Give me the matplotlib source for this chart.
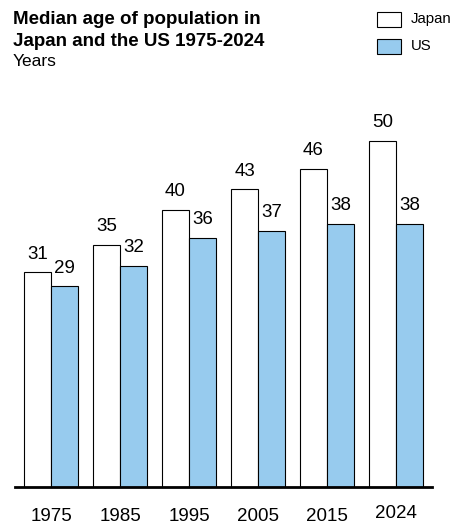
import numpy as np
import matplotlib.pyplot as plt
from matplotlib.patches import Rectangle

plt.rcParams['font.family'] = ['Liberation Sans', 'DejaVu Sans']

years = ['1975', '1985', '1995', '2005', '2015', '2024']
japan = [31, 35, 40, 43, 46, 50]
us = [29, 32, 36, 37, 38, 38]

blue = '#97CBEE'
W, H = 457, 525

fig = plt.figure(figsize=(4.57, 5.25), dpi=100)
ax = fig.add_axes([15 / W, 38 / H, 417 / W, 380.6 / H])

x = np.arange(len(years))
w = 0.39
b1 = ax.bar(x - w / 2, japan, w, color='white', edgecolor='black', linewidth=0.8)
b2 = ax.bar(x + w / 2, us, w, color=blue, edgecolor='black', linewidth=0.8)
ax.bar_label(b1, padding=7, fontsize=13.5)
ax.bar_label(b2, padding=7, fontsize=13.5)

ax.set_xlim(-0.522, 5.522)
ax.set_ylim(0, 55)
for s in ['top', 'right', 'left']:
    ax.spines[s].set_visible(False)
ax.spines['bottom'].set_linewidth(2)
ax.set_yticks([])
ax.set_xticks(x)
ax.set_xticklabels(years, fontsize=13.5)
ax.tick_params(axis='x', length=0, pad=15)
# the last label sits a bit higher in the original
ax.get_xticklabels()[-1].set_y(0.008)

fig.text(13 / W, 1 - 19 / H, 'Median age of population in', fontsize=13.5,
         fontweight='bold', va='center', ha='left')
fig.text(13 / W, 1 - 41 / H, 'Japan and the US 1975-2024', fontsize=13.5,
         fontweight='bold', va='center', ha='left')
fig.text(13 / W, 1 - 62 / H, 'Years', fontsize=12.5, va='center', ha='left')

# legend, drawn by hand
for (label, fc), top in zip([('Japan', 'white'), ('US', blue)], [12, 39]):
    fig.add_artist(Rectangle((377 / W, 1 - (top + 15) / H), 24 / W, 15 / H,
                             transform=fig.transFigure, facecolor=fc,
                             edgecolor='black', linewidth=0.8))
    fig.text(411 / W, 1 - (top + 7.5) / H, label, fontsize=10.8,
             va='center', ha='left')

fig.savefig('out.png', dpi=100)
